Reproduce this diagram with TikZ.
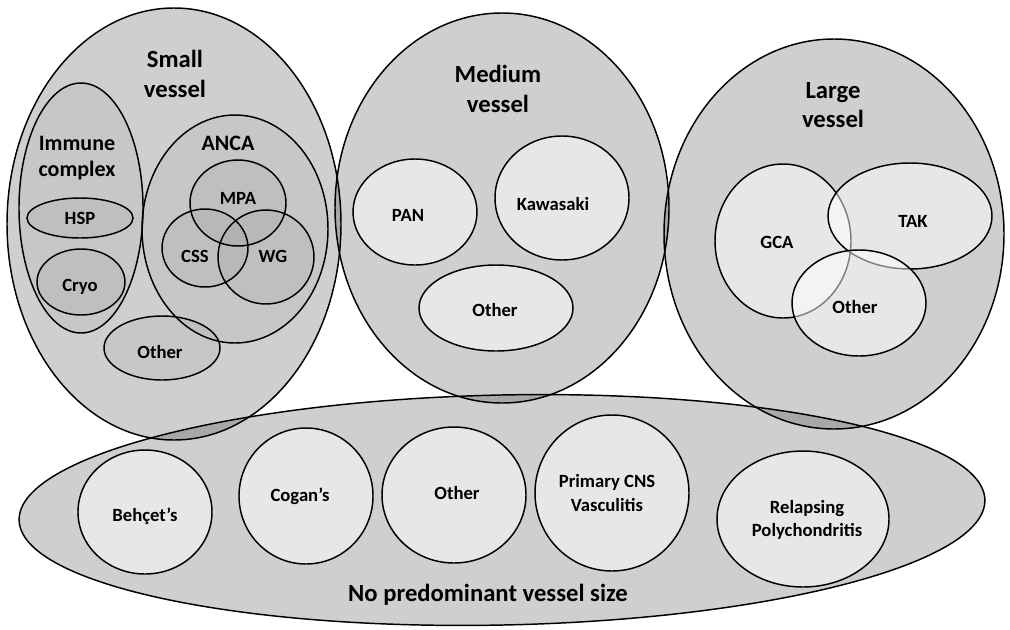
\documentclass[tikz,border=0pt]{standalone}
\usepackage{fontspec}
\setmainfont{Carlito}
\tikzset{
  vessel/.style={draw=black, line width=1.1pt, fill=black, fill opacity=0.19},
  grpset/.style={draw=black, line width=1.1pt, fill=black, fill opacity=0.035},
  subset/.style={draw=black, line width=1.1pt, fill=white, fill opacity=0.5},
  bigtxt/.style={font=\fontsize{18.5}{22}\selectfont\bfseries, align=center},
  midtxt/.style={font=\fontsize{16.5}{20}\selectfont\bfseries, align=center},
  smalltxt/.style={font=\fontsize{14}{17.5}\selectfont\bfseries, align=center}
}

\begin{document}
\begin{tikzpicture}[x=0.75pt, y=-0.75pt]
  \fill[white] (0,0) rectangle (1010,629);
  \useasboundingbox (0,0) rectangle (1010,629);
  % vessel size groups
  \draw[vessel] (174,224) ellipse [x radius=167, y radius=216];
  \draw[vessel] (502,208) ellipse [x radius=167, y radius=195];
  \draw[vessel] (834,234) ellipse [x radius=170, y radius=195];
  \draw[vessel, rotate around={1.2:(502,510)}] (502,510) ellipse [x radius=483, y radius=115];
  % small vessel
  \draw[grpset] (81,208) ellipse [x radius=62, y radius=125];
  \draw[grpset] (80,218) ellipse [x radius=53, y radius=20];
  \draw[grpset] (81,282) ellipse [x radius=44, y radius=33];
  \draw[grpset] (235,229) ellipse [x radius=93, y radius=114];
  \draw[grpset] (238,203) ellipse [x radius=48, y radius=43];
  \draw[grpset] (205,248) ellipse [x radius=43, y radius=39];
  \draw[grpset] (266,257) ellipse [x radius=48, y radius=47];
  \draw[grpset] (162,348) ellipse [x radius=58, y radius=32];
  % medium vessel
  \draw[subset] (415,212) ellipse [x radius=62, y radius=53];
  \draw[subset] (562,198) ellipse [x radius=67, y radius=62];
  \draw[subset] (496,308) ellipse [x radius=77, y radius=43];
  % large vessel
  \draw[subset] (783,241) ellipse [x radius=68, y radius=77];
  \draw[subset] (910,216) ellipse [x radius=82, y radius=53];
  \draw[subset] (859,303) ellipse [x radius=67, y radius=53];
  % no predominant size
  \draw[subset] (145,512) ellipse [x radius=67, y radius=62];
  \draw[subset] (306,496) ellipse [x radius=67, y radius=68];
  \draw[subset] (454,495) ellipse [x radius=72, y radius=68];
  \draw[subset] (612,493) ellipse [x radius=77, y radius=78];
  \draw[subset] (803,519) ellipse [x radius=86, y radius=68];

  % labels
  \node[bigtxt] (small) at (175,74) {Small\\vessel};
  \node[bigtxt] (medium) at (498,89) {Medium\\vessel};
  \node[bigtxt] (large) at (833,105) {Large\\vessel};
  \node[bigtxt] (nopred) at (488,595) {No predominant vessel size};
  \node[midtxt] (immune) at (77,158) {Immune\\complex};
  \node[midtxt] (anca) at (228,143) {ANCA};
  \node[smalltxt] (hsp) at (80,218) {HSP};
  \node[smalltxt] (cryo) at (80,287) {Cryo};
  \node[smalltxt] (mpa) at (238,198) {MPA};
  \node[smalltxt] (css) at (195,256) {CSS};
  \node[smalltxt] (wg) at (273,256) {WG};
  \node[smalltxt] (svother) at (160,352) {Other};
  \node[smalltxt] (pan) at (408,215) {PAN};
  \node[smalltxt] (kawasaki) at (553,204) {Kawasaki};
  \node[smalltxt] (mvother) at (495,310) {Other};
  \node[smalltxt] (gca) at (777,242) {GCA};
  \node[smalltxt] (tak) at (913,221) {TAK};
  \node[smalltxt] (lvother) at (855,307) {Other};
  \node[smalltxt] (behcet) at (145,516) {Behçet’s};
  \node[smalltxt] (cogan) at (300,496) {Cogan’s};
  \node[smalltxt] (npother) at (457,493) {Other};
  \node[smalltxt] (cns) at (607,493) {Primary CNS\\Vasculitis};
  \node[smalltxt] (relapsing) at (807,520) {Relapsing\\Polychondritis};
\end{tikzpicture}
\end{document}
